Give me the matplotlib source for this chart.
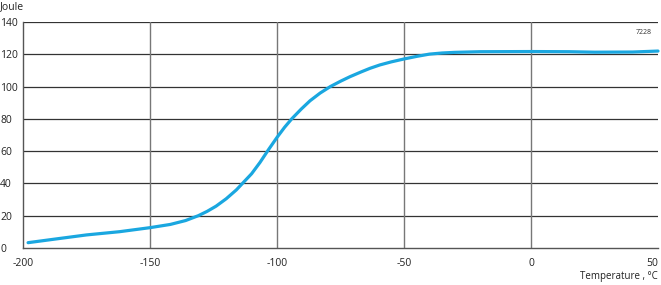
import numpy as np
import matplotlib
matplotlib.use('Agg')
from matplotlib import pyplot as plt

# values (temperature in C, impact energy in Joule)
temp = [-198, -188, -175, -162, -150, -142, -136, -131, -127.5, -124, -120,
        -116, -113, -110, -106.7, -103.4, -100, -97, -94.2, -90.5, -87, -83,
        -79, -75, -71.3, -67, -63.4, -59.5, -55, -50, -45, -40, -35, -30,
        -20, 0, 15, 25, 40, 50]
joule = [3.3, 5.4, 8.1, 10.1, 12.6, 14.6, 17.0, 20.0, 22.7, 25.9, 30.5,
         36.0, 41.0, 46.0, 53.0, 60.8, 68.5, 74.8, 80.0, 86.0, 91.2, 96.0,
         100.0, 103.3, 106.1, 109.0, 111.3, 113.4, 115.3, 117.1, 118.7, 120.1, 120.8, 121.2,
         121.6, 121.7, 121.6, 121.3, 121.4, 122.0]

xticks = [-200, -150, -100, -50, 0, 50]
yticks = [0, 20, 40, 60, 80, 100, 120, 140]

plt.rcParams['font.family'] = ['Open Sans', 'DejaVu Sans']
plt.rcParams['axes.unicode_minus'] = False

fig = plt.figure(figsize=(6.61, 2.85), dpi=100)
ax = fig.add_axes([23/661, 37/285, 635/661, 226/285])

for y in yticks[1:]:
    ax.axhline(y, color='#333333', lw=0.9, zorder=1)
for x in xticks[1:-1]:
    ax.axvline(x, color='#777777', lw=1.0, zorder=1)

ax.plot(temp, joule, color='#1aa7e0', lw=2.3, solid_capstyle='round',
        solid_joinstyle='round', zorder=3, clip_on=False)

ax.set_xlim(-200, 50)
ax.set_ylim(0, 140)
ax.set_xticks(xticks)
ax.set_yticks(yticks)
ax.tick_params(length=0, labelsize=7.5, colors='#222222')
ax.tick_params(axis='x', pad=7)
ax.tick_params(axis='y', pad=16.5)
for lab in ax.get_yticklabels():
    lab.set_horizontalalignment('left')
ax.get_xticklabels()[-1].set_horizontalalignment('right')

for s in ['top', 'right']:
    ax.spines[s].set_visible(False)
ax.spines['left'].set_color('#555555')
ax.spines['bottom'].set_color('#555555')
ax.spines['left'].set_linewidth(1.0)
ax.spines['bottom'].set_linewidth(1.0)

fig.text(0, 1 - 7/285, 'Joule', fontsize=7.5, ha='left', va='center', color='#222222')
fig.text(658/661, 1 - 277/285, 'Temperature , \u00b0C', fontsize=7, ha='right', va='center', color='#222222')
ax.text(0.99, 0.97, '7228', transform=ax.transAxes, fontsize=5, ha='right', va='top', color='#333333')

fig.savefig('out.png', dpi=100)
